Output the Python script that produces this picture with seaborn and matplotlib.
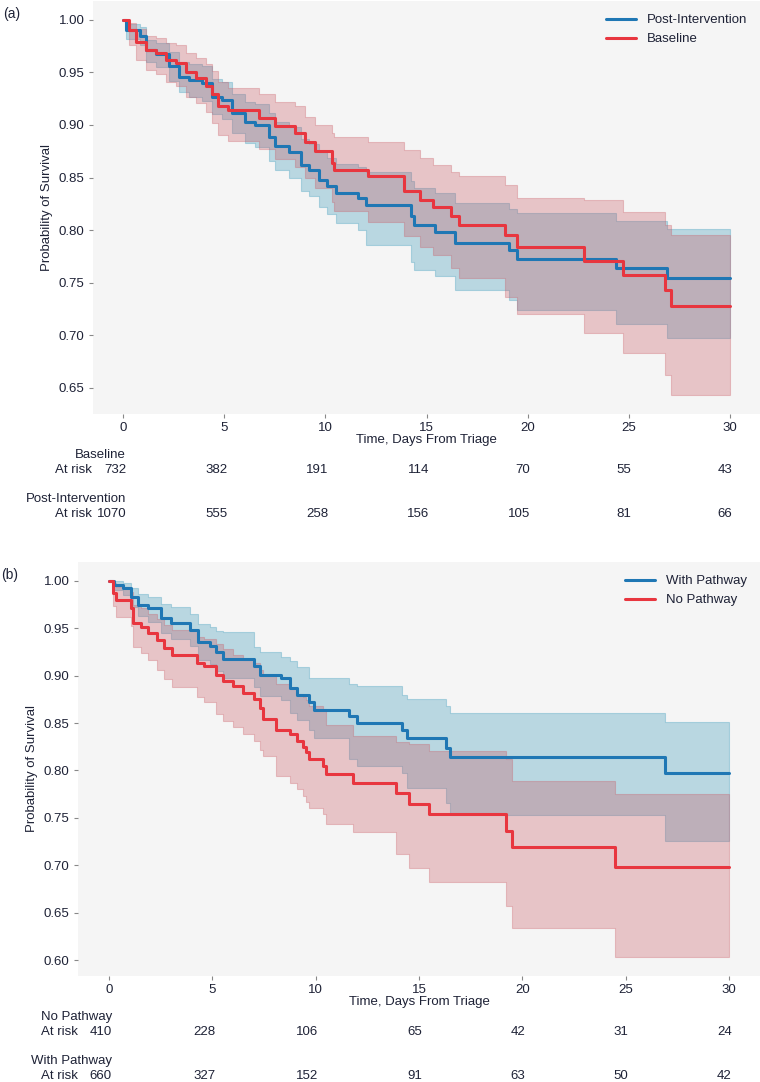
import numpy as np
import pandas as pd
import seaborn as sns
import matplotlib.pyplot as plt

sns.set_theme(style="white")
plt.rcParams['font.family'] = ['Liberation Sans', 'DejaVu Sans']

# ---- panel (a): Baseline vs Post-Intervention ----
a_post_t = [0, 0.13, 0.85, 1.1, 1.6, 2.27, 2.76, 3.25, 3.9, 4.4, 4.9, 5.4, 6.0, 6.5, 7.2, 7.5,
            8.2, 8.8, 9.2, 9.7, 10.1, 10.5, 11.6, 12.0, 14.25, 14.4, 15.4, 16.4, 19.1, 19.5, 24.4, 26.9]
a_post_s = [1, 0.990, 0.985, 0.971, 0.967, 0.956, 0.946, 0.943, 0.940, 0.927, 0.924, 0.911, 0.903, 0.900,
            0.889, 0.880, 0.874, 0.862, 0.857, 0.848, 0.842, 0.835, 0.831, 0.824, 0.813, 0.805, 0.798,
            0.788, 0.781, 0.773, 0.764, 0.754]
a_post_lo = [1, 0.982, 0.976, 0.960, 0.955, 0.942, 0.931, 0.927, 0.923, 0.910, 0.906, 0.892, 0.883, 0.879,
             0.866, 0.857, 0.850, 0.837, 0.832, 0.822, 0.815, 0.807, 0.800, 0.786, 0.770, 0.762, 0.756,
             0.743, 0.734, 0.724, 0.711, 0.697]
a_post_hi = [1, 0.996, 0.993, 0.981, 0.978, 0.969, 0.960, 0.958, 0.956, 0.944, 0.941, 0.929, 0.922, 0.920,
             0.911, 0.903, 0.898, 0.887, 0.882, 0.874, 0.869, 0.863, 0.860, 0.855, 0.847, 0.840, 0.835,
             0.826, 0.820, 0.816, 0.809, 0.801]

a_base_t = [0, 0.3, 0.63, 1.1, 1.6, 2.1, 2.6, 3.1, 3.6, 4.1, 4.4, 4.7, 5.2, 6.7, 7.5, 8.5, 9.0, 9.5,
            10.3, 10.4, 12.1, 13.9, 14.7, 15.3, 16.2, 16.6, 18.9, 19.5, 22.8, 24.7, 26.8, 27.1]
a_base_s = [1, 0.990, 0.979, 0.971, 0.968, 0.962, 0.959, 0.950, 0.945, 0.937, 0.929, 0.918, 0.914, 0.907,
            0.899, 0.892, 0.884, 0.875, 0.864, 0.857, 0.851, 0.837, 0.829, 0.822, 0.813, 0.805, 0.795,
            0.784, 0.771, 0.757, 0.743, 0.728]
a_base_lo = [1, 0.976, 0.962, 0.952, 0.948, 0.941, 0.937, 0.927, 0.921, 0.912, 0.902, 0.890, 0.885, 0.877,
             0.868, 0.860, 0.850, 0.840, 0.827, 0.818, 0.808, 0.794, 0.784, 0.776, 0.764, 0.754, 0.736,
             0.720, 0.702, 0.683, 0.662, 0.643]
a_base_hi = [1, 0.997, 0.991, 0.985, 0.983, 0.978, 0.976, 0.968, 0.964, 0.958, 0.951, 0.941, 0.935, 0.929,
             0.922, 0.918, 0.908, 0.900, 0.892, 0.889, 0.884, 0.876, 0.869, 0.862, 0.855, 0.851, 0.843,
             0.831, 0.829, 0.817, 0.805, 0.795]

# ---- panel (b): No Pathway vs With Pathway ----
b_with_t = [0, 0.25, 0.7, 1.06, 1.4, 1.9, 2.5, 3.0, 3.9, 4.3, 4.9, 5.2, 5.5, 7.0, 7.3, 8.3, 8.75,
            9.1, 9.7, 9.9, 11.6, 12.0, 14.2, 14.4, 16.3, 16.5, 26.9]
b_with_s = [1, 0.996, 0.992, 0.983, 0.975, 0.971, 0.961, 0.956, 0.948, 0.935, 0.931, 0.925, 0.918, 0.910,
            0.901, 0.898, 0.887, 0.880, 0.872, 0.864, 0.857, 0.850, 0.843, 0.834, 0.824, 0.814, 0.797]
b_with_lo = [1, 0.990, 0.985, 0.972, 0.963, 0.957, 0.945, 0.939, 0.931, 0.917, 0.912, 0.905, 0.898, 0.888,
             0.878, 0.874, 0.861, 0.853, 0.843, 0.834, 0.812, 0.805, 0.797, 0.781, 0.766, 0.753, 0.726]
b_with_hi = [1, 1.0, 0.998, 0.992, 0.986, 0.983, 0.976, 0.972, 0.965, 0.954, 0.951, 0.947, 0.946, 0.930,
             0.925, 0.920, 0.915, 0.909, 0.898, 0.897, 0.891, 0.889, 0.880, 0.875, 0.868, 0.861, 0.851]

b_no_t = [0, 0.18, 0.34, 1.06, 1.14, 1.54, 1.9, 2.3, 2.65, 3.06, 4.26, 4.6, 5.2, 5.5, 6.0, 6.5, 7.0,
          7.3, 7.45, 8.1, 8.75, 9.1, 9.4, 9.55, 9.7, 10.35, 10.5, 11.8, 13.9, 14.5, 15.5, 19.2, 19.5, 24.5]
b_no_s = [1, 0.987, 0.980, 0.971, 0.956, 0.951, 0.945, 0.938, 0.929, 0.922, 0.913, 0.910, 0.901, 0.894,
          0.889, 0.882, 0.875, 0.866, 0.854, 0.843, 0.838, 0.831, 0.825, 0.819, 0.812, 0.805, 0.796,
          0.787, 0.776, 0.765, 0.754, 0.736, 0.719, 0.698]
b_no_lo = [1, 0.973, 0.962, 0.952, 0.930, 0.924, 0.916, 0.906, 0.896, 0.888, 0.877, 0.872, 0.860, 0.852,
           0.846, 0.838, 0.831, 0.822, 0.815, 0.794, 0.787, 0.780, 0.773, 0.767, 0.760, 0.754, 0.743,
           0.735, 0.712, 0.697, 0.682, 0.657, 0.634, 0.603]
b_no_hi = [1, 0.998, 0.994, 0.988, 0.975, 0.971, 0.965, 0.960, 0.953, 0.948, 0.941, 0.939, 0.933, 0.928,
           0.922, 0.917, 0.913, 0.906, 0.900, 0.891, 0.887, 0.881, 0.877, 0.874, 0.868, 0.865, 0.848,
           0.836, 0.830, 0.828, 0.820, 0.812, 0.789, 0.775]

# at-risk table
risk_ticks = [0, 5, 10, 15, 20, 25, 30]
a_risk_base = [732, 382, 191, 114, 70, 55, 43]
a_risk_post = [1070, 555, 258, 156, 105, 81, 66]
b_risk_no = [410, 228, 106, 65, 42, 31, 24]
b_risk_with = [660, 327, 152, 91, 63, 50, 42]

BLUE = "#1f77b4"
RED = "#e8363f"
BLUE_CI = "#3094b6"
RED_CI = "#c9555f"
TXT = "#1e2236"
T_END = 30


def curve_frame(t, s, name):
    tt = list(t) + [T_END]
    ss = list(s) + [s[-1]]
    return pd.DataFrame({"time": tt, "surv": ss, "group": name})


def draw_panel(ax, series, rows, tag):
    ax.set_facecolor("#f5f5f5")
    frames = []
    # blue band first, red band over it -> mauve overlap
    for name, t, s, lo, hi, col, ci in series[::-1]:
        tt = list(t) + [T_END]
        ax.fill_between(tt, list(lo) + [lo[-1]], list(hi) + [hi[-1]], step="post",
                        facecolor=ci, edgecolor=ci, alpha=0.3, linewidth=0.8, zorder=1)
    for name, t, s, lo, hi, col, ci in series:
        frames.append(curve_frame(t, s, name))
    df = pd.concat(frames, ignore_index=True)
    names = [x[0] for x in series]
    pal = {x[0]: x[5] for x in series}
    # legend order: second series first
    sns.lineplot(data=df, x="time", y="surv", hue="group", hue_order=names[::-1],
                 palette=pal, estimator=None, sort=True, drawstyle="steps-post",
                 linewidth=2.2, ax=ax, zorder=3)
    leg = ax.legend(loc="upper right", frameon=False, fontsize=9.5, handlelength=2.3,
                    borderaxespad=0.6)
    for txt in leg.get_texts():
        txt.set_color(TXT)
    for line in leg.get_lines():
        line.set_linewidth(2.2)
    for sp in ax.spines.values():
        sp.set_visible(False)
    ax.set_xticks(risk_ticks)
    ax.tick_params(axis="both", which="both", length=3, width=0.8, color="#888888",
                   labelsize=9.5, labelcolor=TXT, bottom=True, left=True, pad=3)
    ax.set_xlabel("Time, Days From Triage", fontsize=9.5, color=TXT, labelpad=0)
    ax.set_ylabel("Probability of Survival", fontsize=9.5, color=TXT)
    ax.yaxis.set_major_formatter(plt.FormatStrFormatter("%.2f"))
    ax.text(-0.135 if tag == "(a)" else -0.112, 0.985, tag, transform=ax.transAxes,
            fontsize=10, color=TXT, va="top", ha="left")

    # at risk rows below the axis
    trans = ax.get_xaxis_transform()
    for k, (label, counts) in enumerate(rows):
        base = -41 - k * 44
        ax.annotate(label, xy=(0, 0), xycoords=trans, xytext=(2, base * 0.72),
                    textcoords="offset points", ha="right", va="center",
                    fontsize=9.5, color=TXT, annotation_clip=False)
        ax.annotate("At risk", xy=(0, 0), xycoords=trans, xytext=(-31 * 0.72, (base - 15) * 0.72),
                    textcoords="offset points", ha="right", va="center",
                    fontsize=9.5, color=TXT, annotation_clip=False)
        for x, c in zip(risk_ticks, counts):
            ax.annotate(str(c), xy=(x, 0), xycoords=trans, xytext=(2, (base - 15) * 0.72),
                        textcoords="offset points", ha="right", va="center",
                        fontsize=9.5, color=TXT, annotation_clip=False)


fig = plt.figure(figsize=(7.6, 10.82), dpi=100)
W, H = 760.0, 1082.0
ax_a = fig.add_axes([93 / W, 1 - 414 / H, 1 - 93 / W, 413 / H])
ax_b = fig.add_axes([78 / W, 1 - 976 / H, 1 - 78 / W, 414 / H])

draw_panel(ax_a,
           [("Baseline", a_base_t, a_base_s, a_base_lo, a_base_hi, RED, RED_CI),
            ("Post-Intervention", a_post_t, a_post_s, a_post_lo, a_post_hi, BLUE, BLUE_CI)],
           [("Baseline", a_risk_base), ("Post-Intervention", a_risk_post)], "(a)")
draw_panel(ax_b,
           [("No Pathway", b_no_t, b_no_s, b_no_lo, b_no_hi, RED, RED_CI),
            ("With Pathway", b_with_t, b_with_s, b_with_lo, b_with_hi, BLUE, BLUE_CI)],
           [("No Pathway", b_risk_no), ("With Pathway", b_risk_with)], "(b)")

fig.savefig("out.png", dpi=100, facecolor="white")
